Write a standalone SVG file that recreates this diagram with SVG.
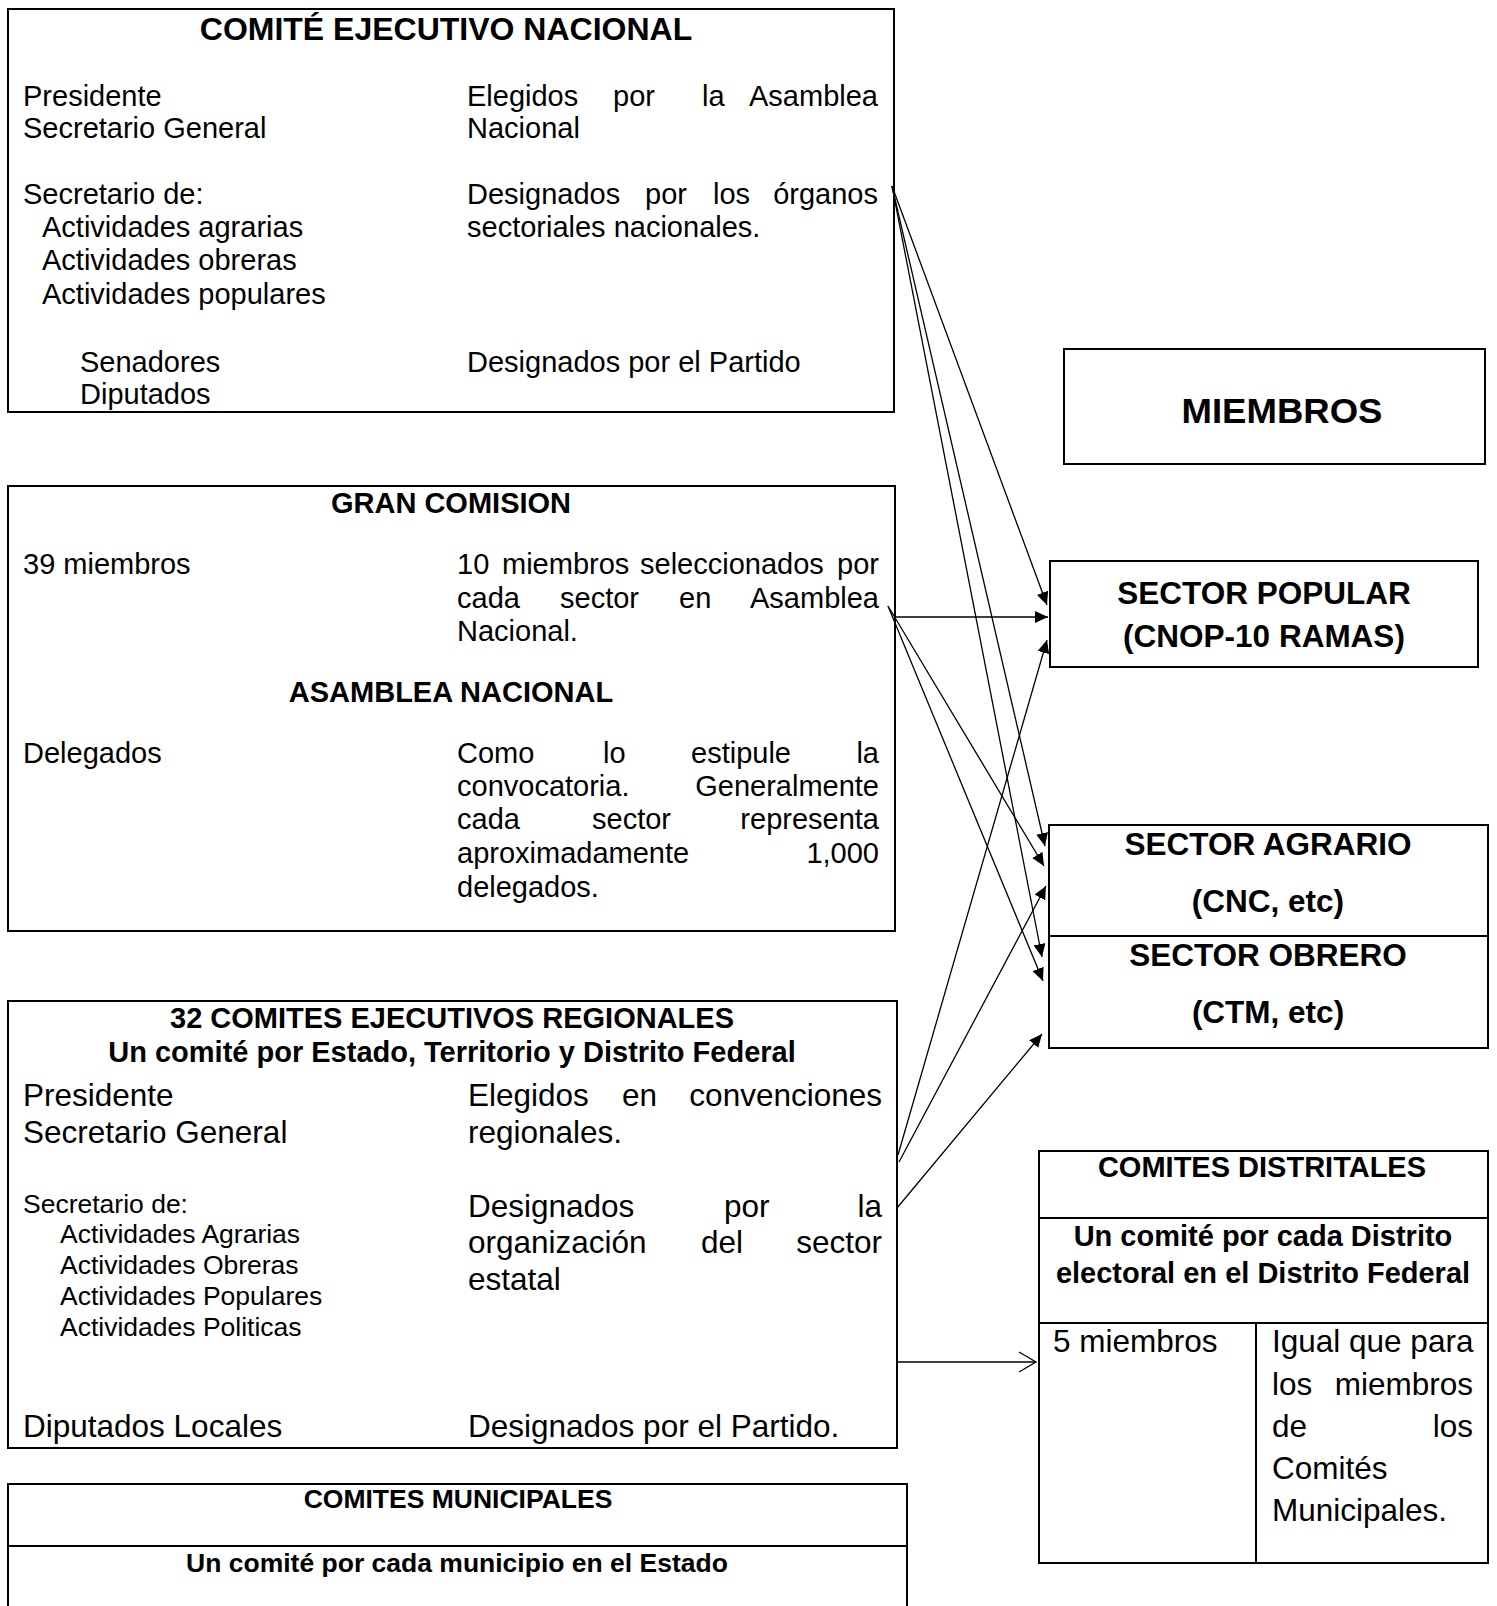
<svg xmlns="http://www.w3.org/2000/svg" width="1497" height="1606" viewBox="0 0 1497 1606">
<style>
.box{fill:#fff;stroke:#000;stroke-width:2}
.ln{fill:none;stroke:#000;stroke-width:2}
text{font-family:"Liberation Sans",Arial,Helvetica,sans-serif;fill:#000}
.b{font-weight:bold}
.c{text-anchor:middle}
.e{text-anchor:end}
.f26{font-size:26.5px}
.f29{font-size:29px}
.f31{font-size:31.5px}
.f32{font-size:32px}
.arr{fill:none;stroke:#000;stroke-width:1.3;marker-end:url(#ah)}
.open{fill:none;stroke:#000;stroke-width:1.3}
</style>
<defs>
<marker id="ah" markerUnits="userSpaceOnUse" markerWidth="14" markerHeight="12" refX="13" refY="6" orient="auto">
<path d="M0,0 L13,6 L0,12 z" fill="#000"/>
</marker>
</defs>
<rect width="1497" height="1606" fill="#fff"/>

<g id="comite-ejecutivo-nacional">
<rect class="box" x="8" y="9" width="886" height="403"/>
<text class="b c f32" x="446" y="40">COMITÉ EJECUTIVO NACIONAL</text>
<text class="f29" x="23" y="106">Presidente</text>
<text class="f29" x="23" y="138">Secretario General</text>
<text class="f29" x="23" y="204">Secretario de:</text>
<text class="f29" x="42" y="237">Actividades agrarias</text>
<text class="f29" x="42" y="270">Actividades obreras</text>
<text class="f29" x="42" y="304">Actividades populares</text>
<text class="f29" x="80" y="372">Senadores</text>
<text class="f29" x="80" y="404">Diputados</text>
<text class="f29" x="467" y="106">Elegidos</text>
<text class="f29" x="613" y="106">por</text>
<text class="f29" x="702" y="106">la</text>
<text class="f29 e" x="878" y="106">Asamblea</text>
<text class="f29" x="467" y="138">Nacional</text>
<text class="f29" x="467" y="204">Designados</text>
<text class="f29" x="645" y="204">por</text>
<text class="f29" x="713" y="204">los</text>
<text class="f29 e" x="878" y="204">órganos</text>
<text class="f29" x="467" y="237">sectoriales nacionales.</text>
<text class="f29" x="467" y="372">Designados por el Partido</text>
</g>

<g id="gran-comision">
<rect class="box" x="8" y="486" width="887" height="445"/>
<text class="b c f29" x="451" y="513">GRAN COMISION</text>
<text class="f29" x="23" y="574">39 miembros</text>
<text class="f29" x="457" y="574">10</text>
<text class="f29" x="502" y="574">miembros</text>
<text class="f29" x="640" y="574">seleccionados</text>
<text class="f29 e" x="879" y="574">por</text>
<text class="f29" x="457" y="608">cada</text>
<text class="f29" x="560" y="608">sector</text>
<text class="f29" x="679" y="608">en</text>
<text class="f29 e" x="879" y="608">Asamblea</text>
<text class="f29" x="457" y="641">Nacional.</text>
<text class="b c f29" x="451" y="702">ASAMBLEA NACIONAL</text>
<text class="f29" x="23" y="763">Delegados</text>
<text class="f29" x="457" y="763">Como</text>
<text class="f29" x="603" y="763">lo</text>
<text class="f29" x="691" y="763">estipule</text>
<text class="f29 e" x="879" y="763">la</text>
<text class="f29" x="457" y="796">convocatoria.</text>
<text class="f29 e" x="879" y="796">Generalmente</text>
<text class="f29" x="457" y="829">cada</text>
<text class="f29" x="592" y="829">sector</text>
<text class="f29 e" x="879" y="829">representa</text>
<text class="f29" x="457" y="863">aproximadamente</text>
<text class="f29 e" x="879" y="863">1,000</text>
<text class="f29" x="457" y="897">delegados.</text>
</g>

<g id="comites-ejecutivos-regionales">
<rect class="box" x="8" y="1001" width="889" height="447"/>
<text class="b c f29" x="452" y="1028">32 COMITES EJECUTIVOS REGIONALES</text>
<text class="b c f29" x="452" y="1062">Un comité por Estado, Territorio y Distrito Federal</text>
<text class="f31" x="23" y="1106">Presidente</text>
<text class="f31" x="23" y="1143">Secretario General</text>
<text class="f26" x="23" y="1213">Secretario de:</text>
<text class="f26" x="60" y="1243">Actividades Agrarias</text>
<text class="f26" x="60" y="1274">Actividades Obreras</text>
<text class="f26" x="60" y="1305">Actividades Populares</text>
<text class="f26" x="60" y="1336">Actividades Politicas</text>
<text class="f31" x="23" y="1437">Diputados Locales</text>
<text class="f31" x="468" y="1106">Elegidos</text>
<text class="f31" x="622" y="1106">en</text>
<text class="f31 e" x="882" y="1106">convenciones</text>
<text class="f31" x="468" y="1143">regionales.</text>
<text class="f31" x="468" y="1217">Designados</text>
<text class="f31" x="724" y="1217">por</text>
<text class="f31 e" x="882" y="1217">la</text>
<text class="f31" x="468" y="1253">organización</text>
<text class="f31" x="701" y="1253">del</text>
<text class="f31 e" x="882" y="1253">sector</text>
<text class="f31" x="468" y="1290">estatal</text>
<text class="f31" x="468" y="1437">Designados por el Partido.</text>
</g>

<g id="comites-municipales">
<rect class="box" x="8" y="1484" width="899" height="140"/>
<line class="ln" x1="8" y1="1546" x2="907" y2="1546"/>
<text class="b c f26" x="458" y="1508">COMITES MUNICIPALES</text>
<text class="b c f26" x="457" y="1572">Un comité por cada municipio en el Estado</text>
</g>

<g id="miembros">
<rect class="box" x="1064" y="349" width="421" height="115"/>
<text class="b c" x="1282" y="423" style="font-size:35px" textLength="201" lengthAdjust="spacingAndGlyphs">MIEMBROS</text>
</g>

<g id="sector-popular">
<rect class="box" x="1050" y="561" width="428" height="106"/>
<text class="b c f31" x="1264" y="604">SECTOR POPULAR</text>
<text class="b c f31" x="1264" y="647">(CNOP-10 RAMAS)</text>
</g>

<g id="sector-agrario-obrero">
<rect class="box" x="1049" y="825" width="439" height="223"/>
<line class="ln" x1="1049" y1="936" x2="1488" y2="936"/>
<text class="b c f31" x="1268" y="855">SECTOR AGRARIO</text>
<text class="b c f31" x="1268" y="912">(CNC, etc)</text>
<text class="b c f31" x="1268" y="966">SECTOR OBRERO</text>
<text class="b c f31" x="1268" y="1023">(CTM, etc)</text>
</g>

<g id="comites-distritales">
<rect class="box" x="1039" y="1151" width="449" height="412"/>
<line class="ln" x1="1039" y1="1218" x2="1488" y2="1218"/>
<line class="ln" x1="1039" y1="1323" x2="1488" y2="1323"/>
<line class="ln" x1="1256" y1="1323" x2="1256" y2="1563"/>
<text class="b c f29" x="1262" y="1177">COMITES DISTRITALES</text>
<text class="b c f29" x="1263" y="1246">Un comité por cada Distrito</text>
<text class="b c f29" x="1263" y="1283">electoral en el Distrito Federal</text>
<text class="f31" x="1053" y="1352">5 miembros</text>
<text class="f31" x="1272" y="1352">Igual que para</text>
<text class="f31" x="1272" y="1395">los</text>
<text class="f31 e" x="1473" y="1395">miembros</text>
<text class="f31" x="1272" y="1437">de</text>
<text class="f31 e" x="1473" y="1437">los</text>
<text class="f31" x="1272" y="1479">Comités</text>
<text class="f31" x="1272" y="1521">Municipales.</text>
</g>

<g id="connectors">
<line class="arr" x1="892" y1="186" x2="1047" y2="605"/>
<line class="arr" x1="892" y1="186" x2="1045" y2="846"/>
<line class="arr" x1="892" y1="186" x2="1042" y2="957"/>
<line class="arr" x1="895" y1="617" x2="1048" y2="617"/>
<line class="arr" x1="888" y1="606" x2="1044" y2="866"/>
<line class="arr" x1="888" y1="606" x2="1043" y2="981"/>
<line class="arr" x1="898" y1="1155" x2="1047" y2="640"/>
<line class="arr" x1="899" y1="1162" x2="1046" y2="886"/>
<line class="arr" x1="897" y1="1208" x2="1042" y2="1034"/>
<line class="open" x1="898" y1="1362" x2="1036" y2="1362"/>
<polyline class="open" points="1019,1352 1036,1362 1019,1372"/>
</g>
</svg>
